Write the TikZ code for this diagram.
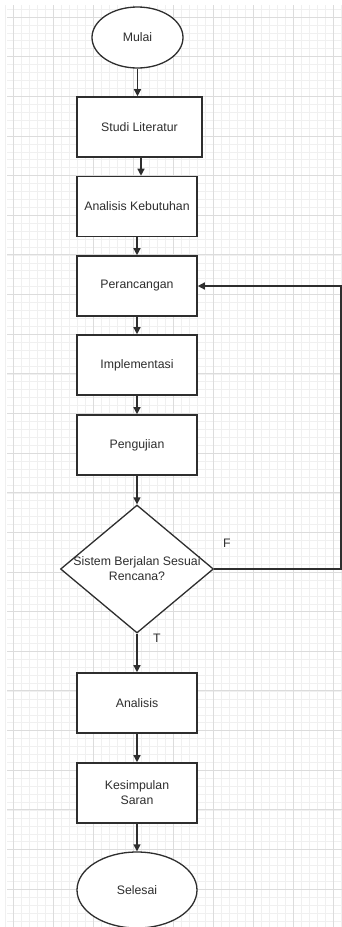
\documentclass[tikz,border=0pt]{standalone}
\usepackage{fontspec}
\setmainfont{Liberation Sans}
\usepackage{xcolor}
\usetikzlibrary{shapes.geometric, arrows.meta, positioning, calc}

\definecolor{garis}{HTML}{2E2E2E}
\definecolor{gridkecil}{HTML}{F0F0F0}
\definecolor{gridbesar}{HTML}{DCDCDC}

\begin{document}
\begin{tikzpicture}[x=1pt, y=-1pt,
    proses/.style={draw=garis, line width=1.6pt, rectangle, minimum width=120pt, minimum height=60pt, inner sep=0pt, fill=white},
    terminal/.style={draw=garis, line width=1.3pt, ellipse, inner sep=0pt, fill=white},
    keputusan/.style={draw=garis, line width=1.3pt, diamond, aspect=1.2, minimum width=153pt, minimum height=128pt, inner sep=0pt, fill=white},
    panah/.style={draw=garis, line width=1.4pt, -{Triangle[length=7pt,width=7pt]}},
    teks/.style={font=\fontsize{12.3}{15}\selectfont, text=garis, align=center}
]
\useasboundingbox (0,0) rectangle (342,927);
\fill[white] (0,0) rectangle (342,927);

% grid background
\foreach \k in {0,...,42} {
    \draw[gridkecil, line width=0.6pt] ({5+8*\k},5) -- ({5+8*\k},927);
}
\foreach \k in {0,...,115} {
    \draw[gridkecil, line width=0.6pt] (7,{9.07+7.93*\k}) -- (342,{9.07+7.93*\k});
}
\foreach \k in {0,...,8} {
    \draw[gridbesar, line width=0.8pt] ({13+40*\k},5) -- ({13+40*\k},927);
}
\foreach \k in {0,...,22} {
    \draw[gridbesar, line width=0.8pt] (7,{17+39.64*\k}) -- (342,{17+39.64*\k});
}

% flow nodes
\node[terminal, minimum width=91pt, minimum height=61pt] (mulai) at (137.5,37.5) {};
\node[teks] at (mulai) {Mulai};
\node[proses, minimum width=125pt] (studi) at (139.5,127) {};
\node[teks] at (studi) {Studi Literatur};
\node[proses] (kebutuhan) at (137,206.5) {};
\node[teks] at (kebutuhan) {Analisis Kebutuhan};
\node[proses] (perancangan) at (137,286) {};
\node[teks] at (perancangan) {Perancangan};
\node[proses] (implementasi) at (137,365) {};
\node[teks] at (implementasi) {Implementasi};
\node[proses] (pengujian) at (137,445) {};
\node[teks] at (pengujian) {Pengujian};
\node[keputusan] (cek) at (137,569) {};
\node[teks] at (cek) {Sistem Berjalan Sesuai\\Rencana?};
\node[proses] (analisis) at (137,703) {};
\node[teks] at (analisis) {Analisis};
\node[proses] (kesimpulan) at (137,793) {};
\node[teks] at (kesimpulan) {Kesimpulan\\Saran};
\node[terminal, minimum width=120pt, minimum height=76pt] (selesai) at (137,890) {};
\node[teks] at (selesai) {Selesai};

% connectors
\coordinate (studibawah) at ($(studi.south)+(1.5,0)$);
\draw[panah] (mulai.south) -- (mulai.south |- studi.north);
\draw[panah] (studibawah) -- (studibawah |- kebutuhan.north);
\draw[panah] (kebutuhan) -- (perancangan);
\draw[panah] (perancangan) -- (implementasi);
\draw[panah] (implementasi) -- (pengujian);
\draw[panah] (pengujian) -- (cek);
\draw[panah] (cek) -- (analisis);
\draw[panah] (analisis) -- (kesimpulan);
\draw[panah] (kesimpulan) -- (selesai);

\coordinate (balik) at (341,569);
\draw[panah] (cek.east) -- (balik) |- (perancangan.east);

\node[teks] (labelF) at (227,543) {F};
\node[teks] (labelT) at (157,638) {T};
\end{tikzpicture}
\end{document}
